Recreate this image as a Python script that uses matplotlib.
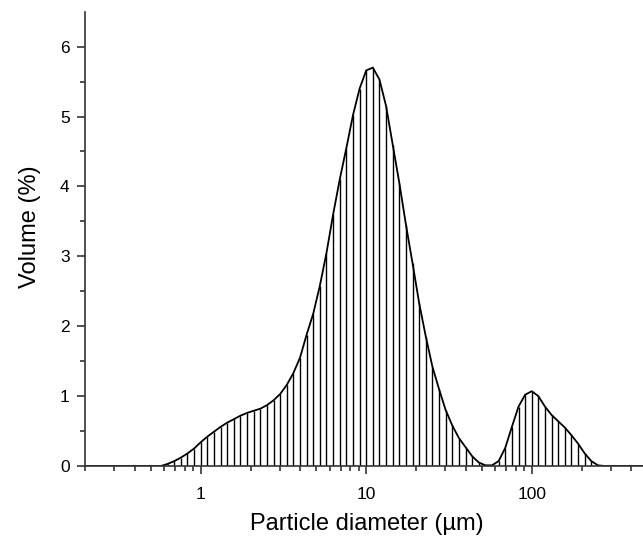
import numpy as np
import matplotlib
matplotlib.use("Agg")
import matplotlib.pyplot as plt
from matplotlib.ticker import FixedLocator, LogLocator, NullFormatter

plt.rcParams["font.family"] = ["Liberation Sans", "DejaVu Sans"]

# Size classes (µm), log-spaced instrument bins, padded with the axis ends
diameter = [0.2,
            0.525, 0.575, 0.631, 0.692, 0.759, 0.832, 0.912,
            1.000, 1.096, 1.202, 1.318, 1.445, 1.585, 1.738, 1.905, 2.089,
            2.291, 2.512, 2.754, 3.020, 3.311, 3.631, 3.981, 4.365, 4.786,
            5.248, 5.754, 6.310, 6.918, 7.586, 8.318, 9.120,
            10.00, 10.96, 12.02, 13.18, 14.45, 15.85, 17.38, 19.05, 20.89,
            22.91, 25.12, 27.54, 30.20, 33.11, 36.31, 39.81, 43.65, 47.86,
            52.48, 57.54, 63.10, 69.18, 75.86, 83.18, 91.20,
            100.0, 109.6, 120.2, 131.8, 144.5, 158.5, 173.8, 190.5, 208.9,
            229.1, 251.2, 275.4, 302.0,
            470.0]

volume = [0.0,
          0.00, 0.00, 0.03, 0.07, 0.12, 0.18, 0.25,
          0.34, 0.42, 0.49, 0.56, 0.62, 0.67, 0.72, 0.76, 0.79,
          0.82, 0.87, 0.94, 1.03, 1.16, 1.33, 1.55, 1.88, 2.18,
          2.58, 3.05, 3.60, 4.10, 4.55, 5.02, 5.40,
          5.66, 5.70, 5.53, 5.15, 4.60, 4.05, 3.45, 2.90, 2.33,
          1.85, 1.42, 1.10, 0.80, 0.58, 0.40, 0.27, 0.14, 0.05,
          0.01, 0.01, 0.07, 0.26, 0.56, 0.85, 1.02,
          1.07, 1.00, 0.85, 0.73, 0.64, 0.55, 0.44, 0.32, 0.18,
          0.07, 0.01, 0.00, 0.00,
          0.0]

x_major = [1, 10, 100]
x_major_labels = ["1", "10", "100"]

fig = plt.figure(figsize=(6.43, 5.37), dpi=100)
ax = fig.add_axes([0.1322, 0.1322, 0.8678, 0.8460])

d = np.array(diameter)
v = np.array(volume)
ax.vlines(d[1:-1], 0, v[1:-1], colors="black", lw=1.0)
ax.plot(d, v, color="black", lw=1.3, solid_joinstyle="miter")

ax.set_xscale("log")
ax.set_xlim(0.2, 470)
ax.set_ylim(0, 6.5)

ax.xaxis.set_major_locator(FixedLocator(x_major))
ax.set_xticklabels(x_major_labels)
ax.xaxis.set_minor_locator(LogLocator(base=10, subs=np.arange(2, 10)))
ax.xaxis.set_minor_formatter(NullFormatter())
ax.set_yticks(range(0, 7))
ax.set_yticks(np.arange(0.5, 6.5, 1.0), minor=True)

for s in ["top", "right"]:
    ax.spines[s].set_visible(False)
for s in ["left", "bottom"]:
    ax.spines[s].set_linewidth(1.2)
    ax.spines[s].set_color("#333333")

ax.tick_params(which="major", direction="out", length=6, width=1.2,
               color="#333333", labelsize=12.5, pad=5)
ax.tick_params(which="minor", direction="out", length=3.5, width=1.2,
               color="#333333")
ax.tick_params(axis="x", which="major", pad=9)

ax.set_xlabel("Particle diameter (µm)", fontsize=17)
ax.set_ylabel("Volume (%)", fontsize=17)
ax.xaxis.set_label_coords(0.505, -0.104)
ax.yaxis.set_label_coords(-0.078, 0.5275)

fig.savefig("out.png", dpi=100)
